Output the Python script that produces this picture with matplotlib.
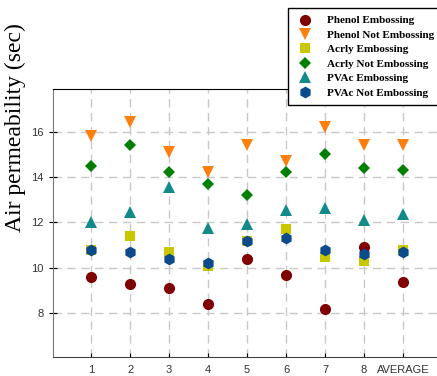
import numpy as np
import matplotlib.pyplot as plt

# Air permeability of treated samples (sec)
groups = ["1", "2", "3", "4", "5", "6", "7", "8", "AVERAGE"]
phenol_emb = [9.6, 9.3, 9.1, 8.4, 10.4, 9.7, 8.2, 10.9, 9.4]
phenol_not = [15.8, 16.4, 15.1, 14.2, 15.4, 14.7, 16.2, 15.4, 15.4]
acrly_emb = [10.8, 11.4, 10.7, 10.1, 11.2, 11.7, 10.5, 10.3, 10.8]
acrly_not = [14.5, 15.4, 14.2, 13.7, 13.2, 14.2, 15.0, 14.4, 14.3]
pvac_emb = [12.0, 12.45, 13.55, 11.75, 11.95, 12.55, 12.65, 12.1, 12.35]
pvac_not = [10.8, 10.7, 10.4, 10.2, 11.2, 11.3, 10.8, 10.6, 10.7]

x = np.arange(1, len(groups) + 1)

fig = plt.figure(figsize=(4.37, 3.76), dpi=100)
ax = fig.add_axes([0.1213, 0.0505, 0.89, 0.7128])

series = [
    (phenol_emb, "o", "#800000", "Phenol Embossing"),
    (phenol_not, "v", "#ff7f0e", "Phenol Not Embossing"),
    (acrly_emb, "s", "#c8c800", "Acrly Embossing"),
    (acrly_not, "D", "#008000", "Acrly Not Embossing"),
    (pvac_emb, "^", "#128a8a", "PVAc Embossing"),
    (pvac_not, "h", "#0b4a8b", "PVAc Not Embossing"),
]
sizes = {"o": 8, "v": 8, "s": 7, "D": 6.5, "^": 8, "h": 8.5}
for vals, m, c, lab in series:
    ax.plot(x, vals, linestyle="none", marker=m, color=c,
            markersize=sizes[m], markeredgewidth=0, label=lab)

ax.set_xlim(0.02, 10.0)
ax.set_ylim(6.08, 17.87)
ax.set_xticks(x)
ax.set_xticklabels(groups)
ax.set_yticks([8, 10, 12, 14, 16])
ax.grid(True, linestyle=(0, (6, 4)), color="#c8c8c8", linewidth=1)
ax.set_axisbelow(True)

ax.tick_params(axis="x", direction="in", length=3, labelsize=8,
               labelcolor="#333333", pad=6)
ax.tick_params(axis="y", direction="inout", length=6, labelsize=8,
               labelcolor="#333333", pad=4)
for lbl in ax.get_xticklabels() + ax.get_yticklabels():
    lbl.set_family("Liberation Sans")

ax.spines["left"].set_color("#777777")
ax.spines["bottom"].set_color("#444444")
ax.spines["top"].set_color("black")
ax.spines["right"].set_visible(False)

fig.text(0.035, 0.66, "Air permeability (sec)", rotation=90,
         ha="center", va="center", fontsize=17, family="Liberation Serif")

leg = fig.legend(loc="upper left", bbox_to_anchor=(0.659, 0.979),
                 bbox_transform=fig.transFigure, borderaxespad=0,
                 prop={"family": "Liberation Serif", "weight": "bold", "size": 8},
                 fancybox=False, edgecolor="black", framealpha=1,
                 handletextpad=1.2, labelspacing=0.42, borderpad=0.7,
                 handlelength=1.6)
leg.get_frame().set_linewidth(1)

fig.savefig("out.png", dpi=100)
